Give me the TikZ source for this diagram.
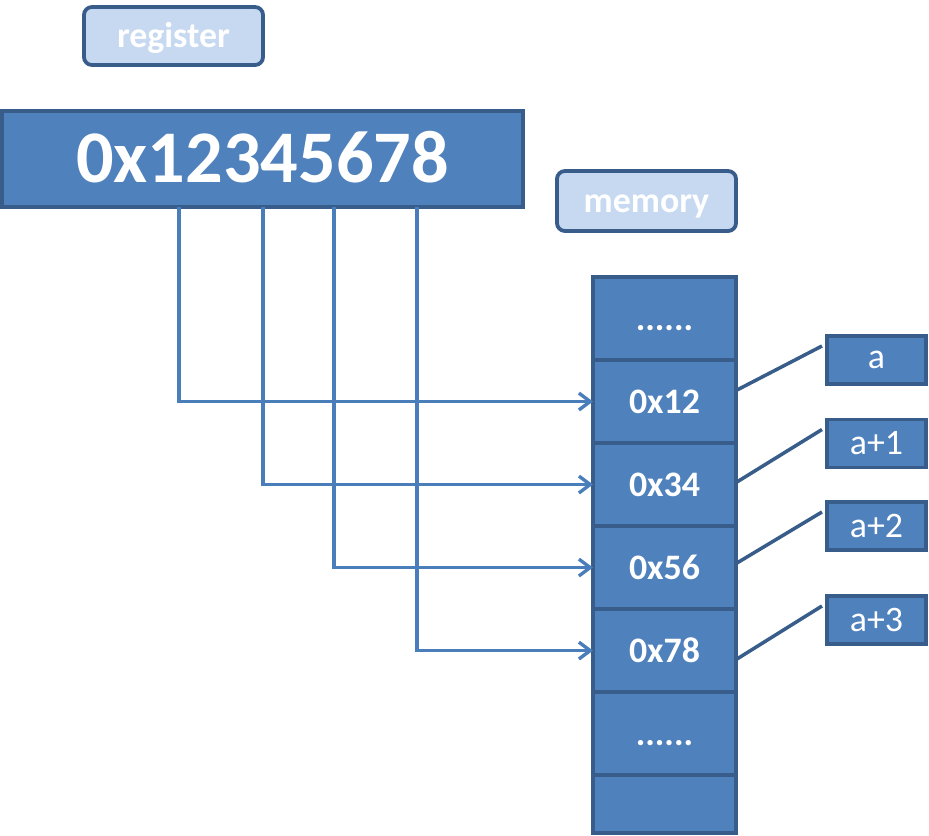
\documentclass[tikz,border=0pt]{standalone}
\usepackage{fontspec}
\setmainfont{Carlito}
\usetikzlibrary{positioning,arrows.meta}
\definecolor{cellblue}{HTML}{4F81BD}
\definecolor{edgeblue}{HTML}{385D8A}
\definecolor{tagblue}{HTML}{C6D9F1}
\definecolor{arrblue}{HTML}{4A7EBB}
\tikzset{
  cell/.style={draw=edgeblue,fill=cellblue,line width=2.7pt,text=white,
    font=\fontsize{25.5}{30}\selectfont\bfseries,minimum width=3.575cm,
    minimum height=2.075cm,inner sep=0pt,outer sep=0pt,text height=16.5pt,text depth=0pt},
  tag/.style={draw=edgeblue,fill=tagblue,line width=2.7pt,rounded corners=0.2cm,text=white,
    font=\fontsize{25.5}{30}\selectfont\bfseries,minimum width=4.475cm,inner sep=0pt,outer sep=0pt,
    text height=19pt,text depth=3pt},
  addr/.style={draw=edgeblue,fill=cellblue,line width=2.7pt,text=white,
    font=\fontsize{25.5}{30}\selectfont,minimum width=2.475cm,minimum height=1.2cm,
    inner sep=0pt,outer sep=0pt},
  wire/.style={arrblue,line width=2.4pt,-{Straight Barb[length=8pt,width=12pt]}},
  link/.style={edgeblue,line width=2.5pt}
}
\begin{document}
\begin{tikzpicture}[x=0.025cm,y=-0.025cm]
\useasboundingbox(0,0)rectangle(929,836);
\node[tag,minimum height=1.45cm](regtag)at(173.5,36){register};
\node[cell,minimum width=13.025cm,minimum height=2.4cm,
  font=\fontsize{52.8}{60}\selectfont\bfseries,text height=34pt](reg)at(262.5,159){0x12345678};
\node[tag,minimum height=1.5cm](memtag)at(646.5,201){memory};
%
\node[cell](m0)at(664.5,318.5){......};
\node[cell,below=0pt of m0](m1){0x12};
\node[cell,below=0pt of m1](m2){0x34};
\node[cell,below=0pt of m2](m3){0x56};
\node[cell,below=0pt of m3](m4){0x78};
\node[cell,below=0pt of m4](m5){......};
\node[cell,below=0pt of m5,minimum height=1.45cm](m6){};
%
\node[addr](l1)at(876.5,360){a};
\node[addr](l2)at(876.5,443.5){a+1};
\node[addr](l3)at(876.5,526){a+2};
\node[addr](l4)at(876.5,620){a+3};
%
\draw[wire](179,0|-reg.south)|-(m1.west);
\draw[wire](263,0|-reg.south)|-(m2.west);
\draw[wire](334,0|-reg.south)|-(m3.west);
\draw[wire](417,0|-reg.south)|-(m4.west);
%
\draw[link]([yshift=0.275cm]m1.east)--([xshift=-0.125cm,yshift=-0.25cm]l1.north west);
\draw[link]([yshift=0.05cm]m2.east)--([xshift=-0.125cm,yshift=-0.25cm]l2.north west);
\draw[link]([yshift=0.1cm]m3.east)--([xshift=-0.125cm,yshift=-0.25cm]l3.north west);
\draw[link]([yshift=-0.225cm]m4.east)--([xshift=-0.125cm,yshift=-0.25cm]l4.north west);
\end{tikzpicture}
\end{document}
